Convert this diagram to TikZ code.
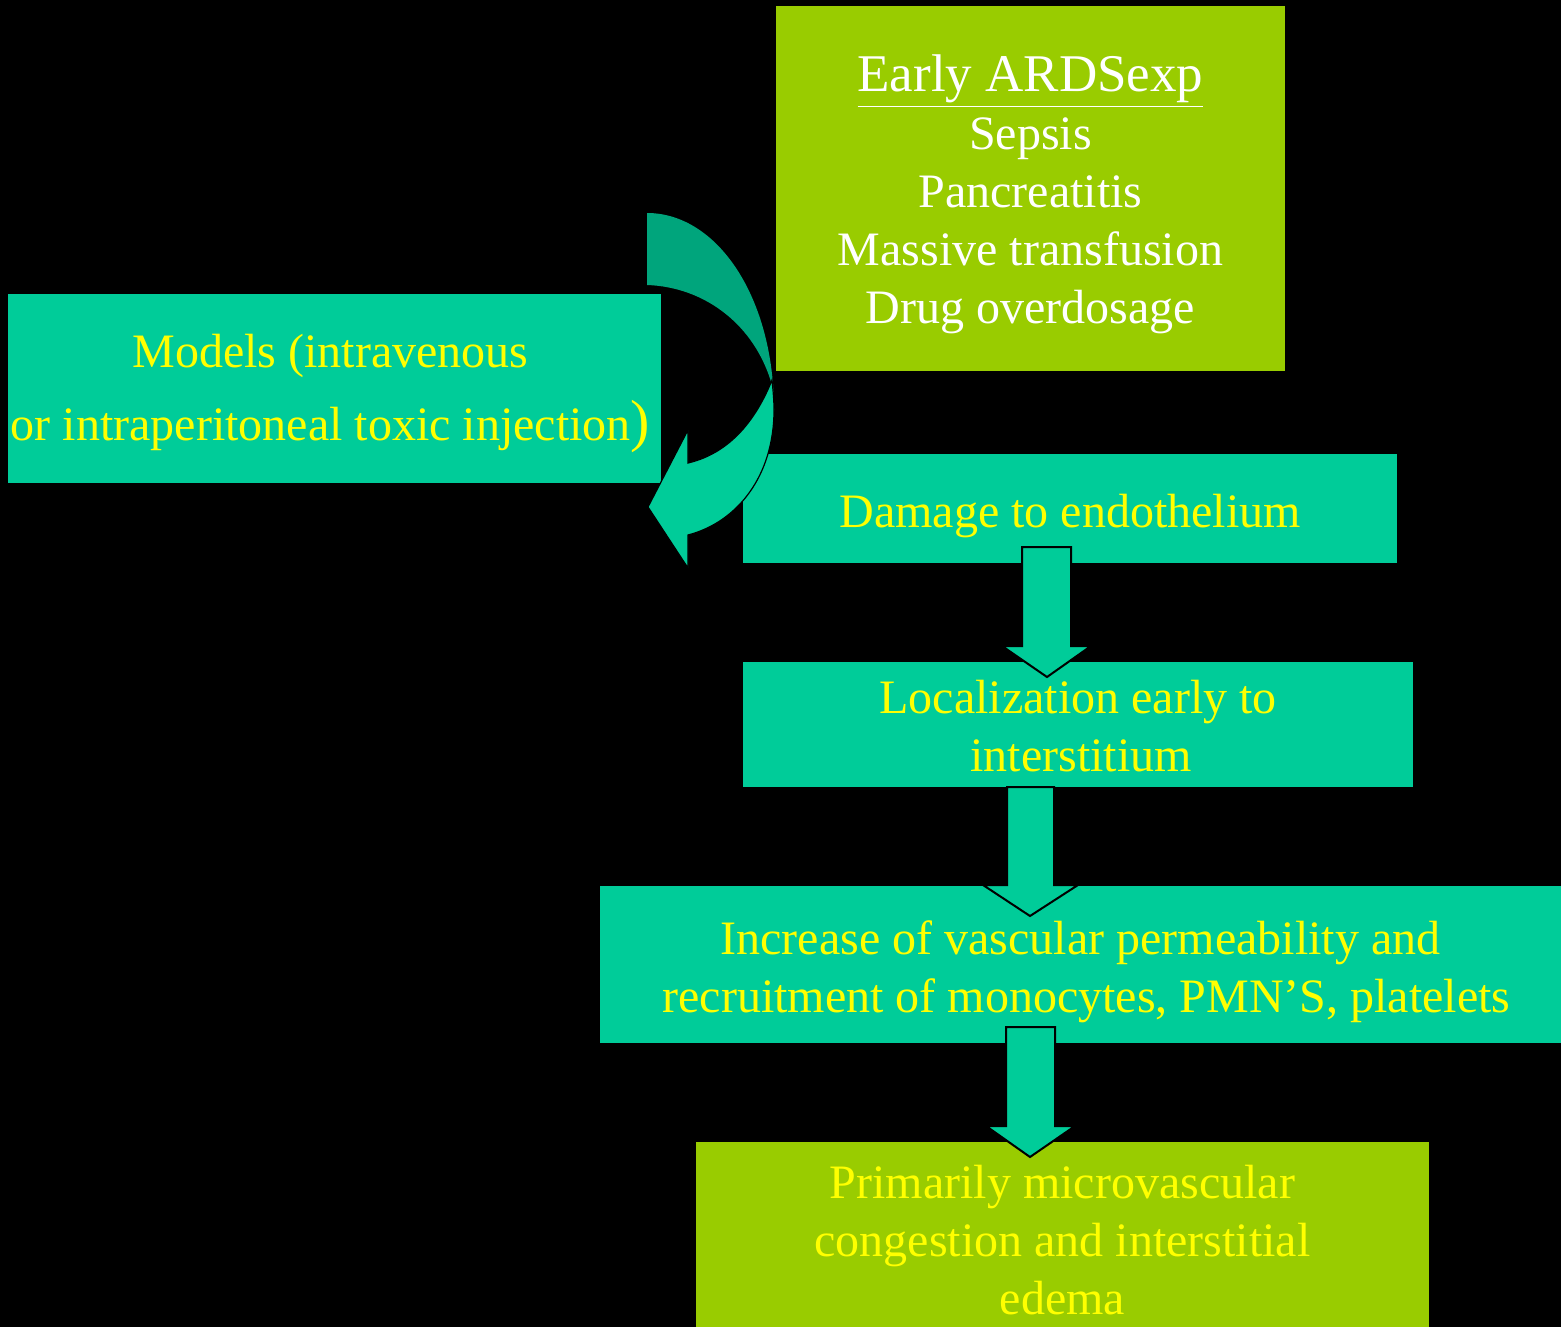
\documentclass[tikz,border=0pt]{standalone}
\usepackage{fontspec}
\setmainfont{Liberation Serif}
\definecolor{teal1}{HTML}{00CC99}
\definecolor{lime1}{HTML}{99CC00}
\definecolor{darkteal}{HTML}{00A57C}
\definecolor{yel}{HTML}{FFFF00}
\begin{document}
\begin{tikzpicture}[x=0.5pt,y=-0.5pt,
  box/.style={rectangle, inner sep=0pt},
  tealbox/.style={box, fill=teal1},
  limebox/.style={box, fill=lime1},
  txt/.style={inner sep=0pt, align=center, text=yel, font=\fontsize{24}{29}\selectfont},
  blockarrow/.style={fill=teal1, draw=black, line width=1pt, line join=miter}
]
\fill[black] (0,0) rectangle (1561,1327);
\useasboundingbox (0,0) rectangle (1561,1327);

% boxes
\node[limebox, minimum width=254.5pt, minimum height=182.5pt] (early) at (1030.5,188.5) {};
\node[tealbox, minimum width=326.5pt, minimum height=94.5pt] (models) at (334.5,388.5) {};
\node[tealbox, minimum width=327pt, minimum height=54.5pt] (damage) at (1070,508.5) {};
\node[tealbox, minimum width=335pt, minimum height=62.5pt] (local) at (1078,724.5) {};
\node[tealbox, minimum width=480.5pt, minimum height=78.5pt] (incr) at (1080.5,964.5) {};
\node[limebox, minimum width=366.5pt, minimum height=92.5pt] (prim) at (1062.5,1234.5) {};

% texts
\node[txt, text=white] (early-t) at ([yshift=-3pt]early.center)
  {{\fontsize{26.5}{29}\selectfont\underline{Early ARDSexp}}\\Sepsis\\Pancreatitis\\Massive transfusion\\Drug overdosage};
\node[txt, font=\fontsize{24}{36.5}\selectfont] (models-t) at ([xshift=-2pt,yshift=-2.5pt]models.center)
  {Models (intravenous\\or intraperitoneal toxic injection{\fontsize{29}{30}\selectfont)}};
\node[txt] (damage-t) at ([yshift=-4pt]damage.center) {Damage to endothelium};
\node[txt] (local-t) at ([yshift=-1pt]local.center)
  {Localization early to\\\hspace*{3pt}interstitium};
\node[txt] (incr-t) at ([yshift=-3.5pt]incr.center)
  {Increase of vascular permeability and\\\hspace*{6pt}recruitment of monocytes, PMN'S, platelets};
\node[txt] (prim-t) at ([yshift=-3pt]prim.center)
  {Primarily microvascular\\congestion and interstitial\\edema};

% block arrows
\draw[blockarrow] (1022,547) -- (1071,547) -- (1071,646) -- (1091,646) -- (1047,677)
  -- (1002,646) -- (1022,646) -- cycle;
\draw[blockarrow] (1007,787) -- (1054,787) -- (1054,885) -- (1078,885) -- (1030,916)
  -- (983,885) -- (1007,885) -- cycle;
\draw[blockarrow] (1006,1027) -- (1055,1027) -- (1055,1126) -- (1075,1126) -- (1030,1157)
  -- (986,1126) -- (1006,1126) -- cycle;

% curved arrow
\fill[darkteal] (647,213) .. controls (717,213) and (774,297) .. (774,410)
  -- (772,385) .. controls (755,325) and (705,287) .. (647,285) -- cycle;
\filldraw[fill=teal1, draw=black, line width=0.6pt]
  (772,380) .. controls (752,430) and (722,455) .. (688,463)
  -- (688,430) -- (648,507) -- (688,568) -- (688,535)
  .. controls (738,522) and (774,475) .. (774,410)
  .. controls (774,400) and (773,390) .. (772,380) -- cycle;
\end{tikzpicture}
\end{document}
